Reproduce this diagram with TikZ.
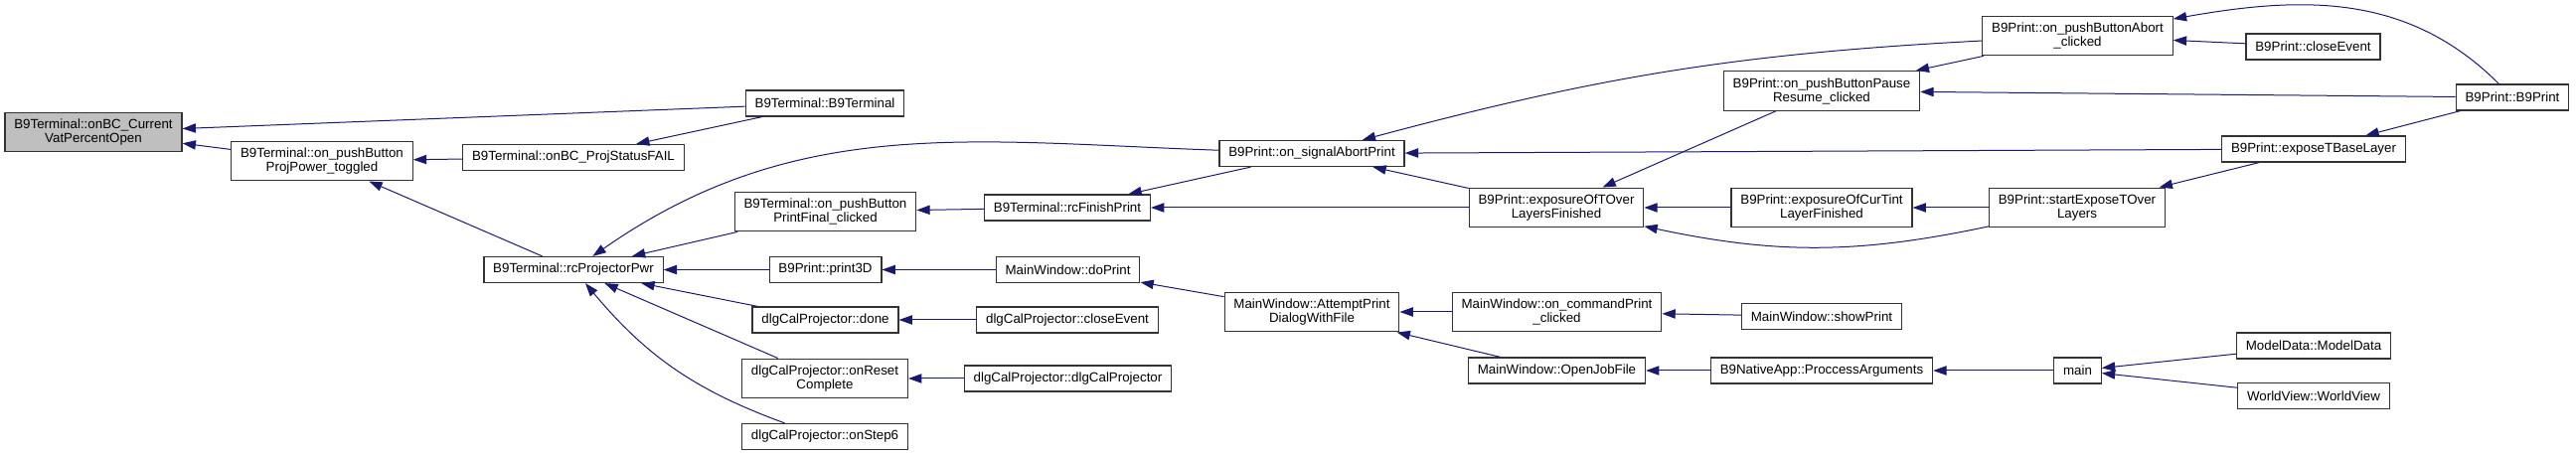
\documentclass[tikz,border=0pt]{standalone}
\usepackage{fontspec}
\setmainfont{Liberation Sans}
\usepackage{tikz}
\usetikzlibrary{arrows.meta}
\usepackage{xcolor}
\definecolor{edgeblue}{RGB}{25,25,112}

\begin{document}
\begin{tikzpicture}[x=0.75pt, y=0.75pt,
    box/.style={rectangle, draw=black!80, line width=0.9pt, fill=white,
                align=center, font=\fontsize{10}{10.5}\selectfont,
                inner xsep=7pt, inner ysep=5pt, minimum height=19.5pt},
    root/.style={box, fill=black!25},
    arrow/.style={->, >={Triangle[length=10pt, width=7pt]}, draw=edgeblue,
                  line width=0.75pt}
  ]
  \useasboundingbox (0,0) rectangle (2592,-459);

  \node[root] (root) at (94,-133) {B9Terminal::onBC\_Current\\VatPercentOpen};
  \node[box] (projpower) at (324,-162) {B9Terminal::on\_pushButton\\ProjPower\_toggled};
  \node[box] (statusfail) at (577,-158.5) {B9Terminal::onBC\_ProjStatusFAIL};
  \node[box] (rcpwr) at (577,-271.5) {B9Terminal::rcProjectorPwr};
  \node[box] (b9term) at (830,-104) {B9Terminal::B9Terminal};
  \node[box] (printfinal) at (830.5,-213) {B9Terminal::on\_pushButton\\PrintFinal\_clicked};
  \node[box] (print3d) at (830.5,-271.5) {B9Print::print3D};
  \node[box] (caldone) at (830.5,-322) {dlgCalProjector::done};
  \node[box] (calreset) at (830,-381) {dlgCalProjector::onReset\\Complete};
  \node[box] (calstep) at (830,-439.5) {dlgCalProjector::onStep6};
  \node[box] (finish) at (1074,-209) {B9Terminal::rcFinishPrint};
  \node[box] (doprint) at (1074.5,-271.5) {MainWindow::doPrint};
  \node[box] (calclose) at (1074,-322) {dlgCalProjector::closeEvent};
  \node[box] (calctor) at (1074.5,-381) {dlgCalProjector::dlgCalProjector};
  \node[box] (abortprint) at (1320,-154.5) {B9Print::on\_signalAbortPrint};
  \node[box] (attempt) at (1320,-314) {MainWindow::AttemptPrint\\DialogWithFile};
  \node[box] (tover) at (1566,-209) {B9Print::exposureOfTOver\\LayersFinished};
  \node[box] (cmdprint) at (1566.5,-314) {MainWindow::on\_commandPrint\\\_clicked};
  \node[box] (openjob) at (1566.5,-373) {MainWindow::OpenJobFile};
  \node[box] (pause) at (1833,-91.5) {B9Print::on\_pushButtonPause\\Resume\_clicked};
  \node[box] (curtint) at (1833,-209) {B9Print::exposureOfCurTint\\LayerFinished};
  \node[box] (showprint) at (1833,-318.5) {MainWindow::showPrint};
  \node[box] (process) at (1833,-373) {B9NativeApp::ProccessArguments};
  \node[box] (abortbtn) at (2090.5,-36) {B9Print::on\_pushButtonAbort\\\_clicked};
  \node[box] (startexp) at (2090,-209) {B9Print::startExposeTOver\\Layers};
  \node[box] (main) at (2090.5,-373) {main};
  \node[box] (closeevt) at (2327.5,-47) {B9Print::closeEvent};
  \node[box] (tbase) at (2328,-150) {B9Print::exposeTBaseLayer};
  \node[box] (modeldata) at (2328,-348) {ModelData::ModelData};
  \node[box] (worldview) at (2328,-398.5) {WorldView::WorldView};
  \node[box] (b9print) at (2528,-98) {B9Print::B9Print};

  \draw[arrow] (b9term) -- (root);
  \draw[arrow] (projpower) -- (root);
  \draw[arrow] (statusfail) -- (projpower);
  \draw[arrow] (b9term) -- (statusfail);
  \draw[arrow] (rcpwr) -- (projpower);
  \draw[arrow] (abortprint) to[out=178, in=35] (rcpwr);
  \draw[arrow] (printfinal) -- (rcpwr);
  \draw[arrow] (print3d) -- (rcpwr);
  \draw[arrow] (caldone) -- (rcpwr);
  \draw[arrow] (calreset) -- (rcpwr);
  \draw[arrow] (calstep) to[bend left=15] (rcpwr);
  \draw[arrow] (finish) -- (printfinal);
  \draw[arrow] (abortprint) -- (finish);
  \draw[arrow] (tover) -- (finish);
  \draw[arrow] (doprint) -- (print3d);
  \draw[arrow] (calclose) -- (caldone);
  \draw[arrow] (calctor) -- (calreset);
  \draw[arrow] (attempt) -- (doprint);
  \draw[arrow] (abortbtn) to[out=183, in=15] (abortprint);
  \draw[arrow] (tbase) -- (abortprint);
  \draw[arrow] (tover) -- (abortprint);
  \draw[arrow] (cmdprint) -- (attempt);
  \draw[arrow] (openjob) -- (attempt);
  \draw[arrow] (pause) -- (tover);
  \draw[arrow] (curtint) -- (tover);
  \draw[arrow] (startexp) to[out=192, in=-12] (tover);
  \draw[arrow] (showprint) -- (cmdprint);
  \draw[arrow] (process) -- (openjob);
  \draw[arrow] (abortbtn) -- (pause);
  \draw[arrow] (b9print) -- (pause);
  \draw[arrow] (startexp) -- (curtint);
  \draw[arrow] (main) -- (process);
  \draw[arrow] (b9print) to[out=135, in=10] (abortbtn);
  \draw[arrow] (closeevt) -- (abortbtn);
  \draw[arrow] (tbase) -- (startexp);
  \draw[arrow] (modeldata) -- (main);
  \draw[arrow] (worldview) -- (main);
  \draw[arrow] (b9print) -- (tbase);

\end{tikzpicture}
\end{document}
